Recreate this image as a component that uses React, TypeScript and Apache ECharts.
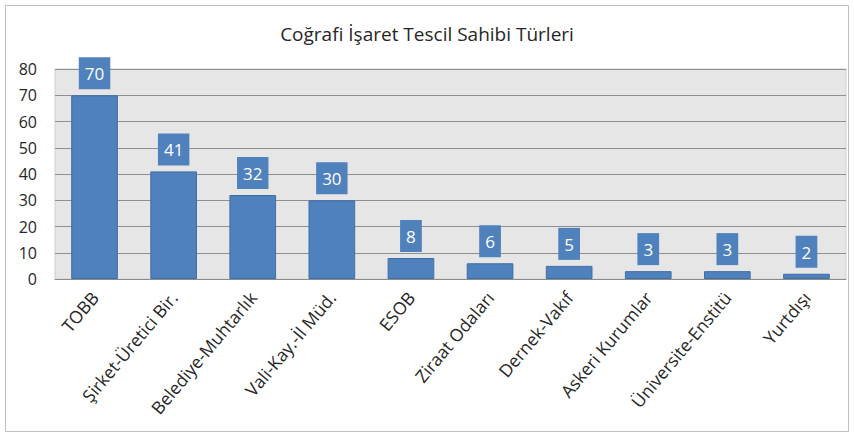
import React, { useEffect, useRef } from "react";
import * as echarts from "echarts";

const categories = [
  "TOBB",
  "Şirket-Üretici Bir.",
  "Belediye-Muhtarlık",
  "Vali-Kay.-İl Müd.",
  "ESOB",
  "Ziraat Odaları",
  "Dernek-Vakıf",
  "Askeri Kurumlar",
  "Üniversite-Enstitü",
  "Yurtdışı",
];
const values = [70, 41, 32, 30, 8, 6, 5, 3, 3, 2];
const titleText = "Coğrafi İşaret Tescil Sahibi Türleri";

const FONT = "'Open Sans', sans-serif";

export default function App() {
  const ref = useRef<HTMLDivElement>(null);
  useEffect(() => {
    document.body.style.margin = "0";
    if (!ref.current) return;
    const chart = echarts.init(ref.current, null, { renderer: "svg" });
    chart.setOption({
      animation: false,
      backgroundColor: "#ffffff",
      title: {
        text: titleText,
        left: "center",
        top: 19,
        textStyle: { fontFamily: FONT, fontSize: 19, fontWeight: "normal", color: "#262626" },
      },
      graphic: [
        {
          type: "rect",
          shape: { x: 5.5, y: 5.5, width: 843, height: 426 },
          style: { fill: "none", stroke: "#bfbfbf", lineWidth: 1 },
          silent: true,
          z: -1,
        },
      ],
      grid: {
        left: 55,
        right: 8,
        top: 69,
        bottom: 157,
        show: true,
        backgroundColor: "#e6e6e6",
        borderColor: "#cfcfcf",
        borderWidth: 1,
      },
      xAxis: {
        type: "category",
        data: categories,
        axisTick: { show: false },
        axisLine: { lineStyle: { color: "#8c8c8c" } },
        axisLabel: {
          interval: 0,
          rotate: 50,
          fontFamily: FONT,
          fontSize: 17.5,
          color: "#262626",
          margin: 15,
        },
      },
      yAxis: {
        type: "value",
        min: 0,
        max: 80,
        interval: 10,
        axisLine: { show: false },
        axisTick: { show: false },
        splitLine: { lineStyle: { color: "#8f8f8f", width: 1 } },
        axisLabel: { fontFamily: FONT, fontSize: 16, color: "#262626", margin: 18 },
      },
      series: [
        {
          type: "bar",
          data: values,
          barWidth: "59%",
          itemStyle: { color: "#4f81bd", borderColor: "#3e6ea8", borderWidth: 1 },
          label: {
            show: true,
            position: "top",
            distance: 6,
            fontFamily: FONT,
            fontSize: 17,
            color: "#ffffff",
            backgroundColor: "#4f81bd",
            padding: [8, 6, 7, 6],
          },
        },
      ],
    });
    return () => chart.dispose();
  }, []);
  return <div ref={ref} style={{ width: 854, height: 436 }} />;
}
